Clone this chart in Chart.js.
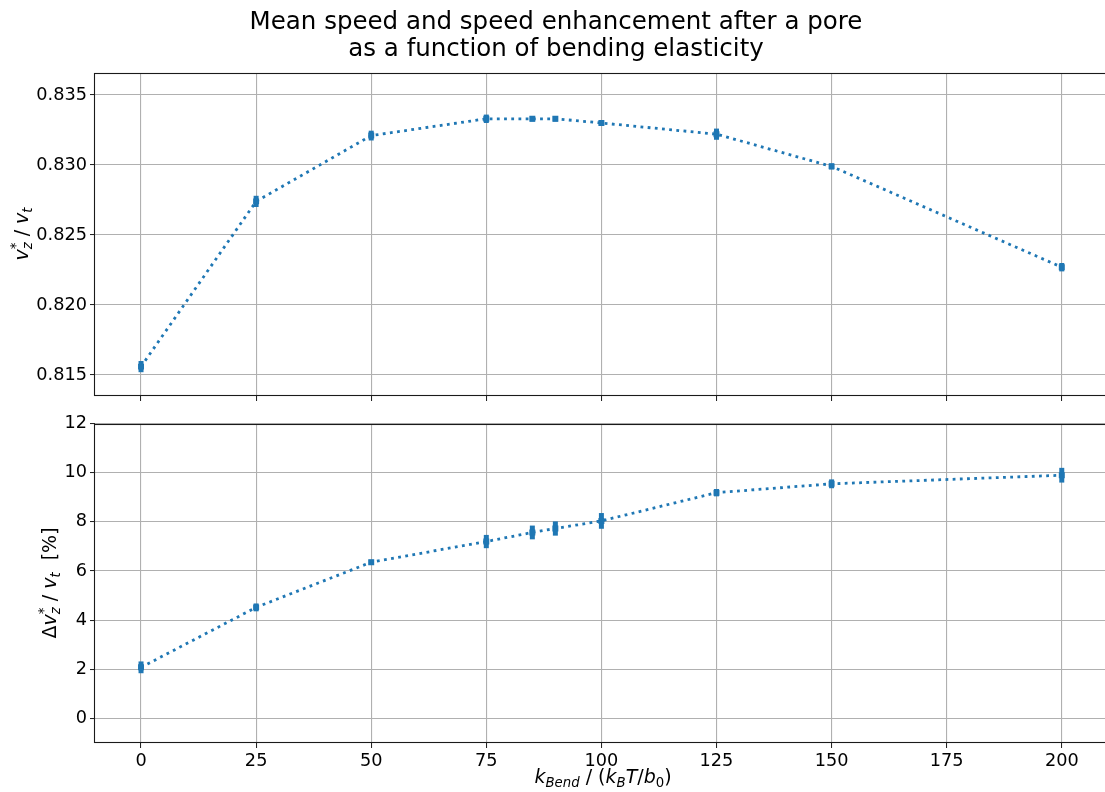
<!DOCTYPE html>
<html>
<head>
<meta charset="utf-8">
<title>Mean speed and speed enhancement</title>
<script src="https://cdn.jsdelivr.net/npm/chart.js@4/dist/chart.umd.min.js"></script>
<style>
  html, body { margin: 0; padding: 0; overflow: hidden; background: #fff; }
  #wrap { position: relative; width: 1112px; height: 792px; }
  canvas { position: absolute; left: 0; }
  #speedChart { top: 0; }
  #gainChart { top: 410px; }
</style>
</head>
<body>
<div id="wrap">
  <canvas id="speedChart" width="1112" height="410"></canvas>
  <canvas id="gainChart" width="1112" height="382"></canvas>
</div>
<script>
// bending elasticity values (x)
const kBend = [0, 25, 50, 75, 85, 90, 100, 125, 150, 200];
// mean speed v_z* / v_t
const meanSpeed = [0.8156, 0.8274, 0.8321, 0.8333, 0.8333, 0.8333, 0.8330, 0.8322, 0.8299, 0.8227];
const meanSpeedErr = [0.0004, 0.0004, 0.00035, 0.0003, 0.0002, 0.0002, 0.0002, 0.0004, 0.00022, 0.0003];
// speed enhancement in %
const speedGain = [2.08, 4.52, 6.36, 7.20, 7.57, 7.73, 8.04, 9.19, 9.55, 9.90];
const speedGainErr = [0.24, 0.16, 0.1, 0.27, 0.28, 0.29, 0.32, 0.15, 0.18, 0.30];

const xTicks = [0, 25, 50, 75, 100, 125, 150, 175, 200];
const speedTicks = [0.815, 0.820, 0.825, 0.830, 0.835];
const gainTicks = [0, 2, 4, 6, 8, 10, 12];

const BLUE = '#1f77b4';
const FONT = '"DejaVu Sans", sans-serif';

// draw text with simple sub/superscripts, optionally rotated
function drawMath(ctx, parts, x, y, size, rotate) {
  const small = size * 0.7;
  const fontFor = (it, px) => (it ? 'italic ' : '') + px + 'px ' + FONT;
  let widths = parts.map(p => {
    if (p.t !== undefined) {
      ctx.font = fontFor(p.it, p.sub ? small : size);
      return ctx.measureText(p.t).width;
    }
    ctx.font = fontFor(p.it, small);
    return Math.max(ctx.measureText(p.sup || '').width, ctx.measureText(p.subz || '').width);
  });
  const total = widths.reduce((a, b) => a + b, 0);
  ctx.save();
  ctx.translate(x, y);
  if (rotate) ctx.rotate(-Math.PI / 2);
  ctx.fillStyle = '#000';
  ctx.textBaseline = 'alphabetic';
  ctx.textAlign = 'left';
  let cx = -total / 2;
  parts.forEach((p, i) => {
    if (p.t !== undefined) {
      ctx.font = fontFor(p.it, p.sub ? small : size);
      ctx.fillText(p.t, cx, p.sub ? size * 0.22 : 0);
    } else {
      ctx.font = fontFor(p.it, small);
      if (p.sup) ctx.fillText(p.sup, cx, -size * 0.42);
      if (p.subz) ctx.fillText(p.subz, cx, size * 0.22);
    }
    cx += widths[i];
  });
  ctx.restore();
}

const errorBars = {
  id: 'errorBars',
  beforeDatasetsDraw(chart, args, opts) {
    const {ctx, scales: {x, y}} = chart;
    ctx.save();
    ctx.strokeStyle = BLUE;
    ctx.lineWidth = 5;
    ctx.lineCap = 'butt';
    opts.vals.forEach((v, i) => {
      const px = x.getPixelForValue(kBend[i]);
      ctx.beginPath();
      ctx.moveTo(px, y.getPixelForValue(v - opts.errs[i]));
      ctx.lineTo(px, y.getPixelForValue(v + opts.errs[i]));
      ctx.stroke();
    });
    ctx.restore();
  }
};

const frame = {
  id: 'frame',
  afterDraw(chart, args, opts) {
    const {ctx, chartArea: a} = chart;
    ctx.save();
    ctx.strokeStyle = '#1a1a1a';
    ctx.lineWidth = 1.1;
    ctx.strokeRect(Math.round(a.left) - 0.5, Math.round(a.top) + 0.5,
      Math.round(a.right - a.left) + 1, Math.round(a.bottom - a.top) - 1);
    ctx.restore();
    if (opts.draw) opts.draw(ctx, chart);
  }
};

function fixTicks(list) {
  return scale => { scale.ticks = list.map(v => ({value: v})); };
}

function makeChart(id, values, errs, yMin, yMax, yList, yFmt, cfg) {
  return new Chart(document.getElementById(id), {
    type: 'line',
    data: {
      labels: kBend,
      datasets: [{
        data: values.map((v, i) => ({x: kBend[i], y: v})),
        borderColor: BLUE,
        backgroundColor: BLUE,
        borderWidth: 2.8,
        borderDash: [2.8, 4.4],
        tension: 0,
        pointStyle: 'rect',
        pointRadius: 4.2,
        pointBorderWidth: 0,
        fill: false
      }]
    },
    options: {
      responsive: false,
      animation: false,
      events: [],
      layout: {padding: {left: 0, right: 1, top: cfg.padTop, bottom: 0}},
      plugins: {
        legend: {display: false},
        tooltip: {enabled: false},
        errorBars: {vals: values, errs: errs},
        frame: {draw: cfg.draw}
      },
      scales: {
        x: {
          type: 'linear',
          min: -10,
          max: 210,
          afterBuildTicks: fixTicks(xTicks),
          afterFit: s => { s.height = cfg.xHeight; },
          border: {display: false},
          grid: {color: '#b0b0b0', lineWidth: 1.1, tickColor: '#1a1a1a', tickLength: 5, tickWidth: 1},
          ticks: {display: cfg.xLabels, color: '#000', padding: 3, maxRotation: 0,
            font: {family: FONT, size: 17.7}}
        },
        y: {
          type: 'linear',
          min: yMin,
          max: yMax,
          afterBuildTicks: fixTicks(yList),
          afterFit: s => { s.width = 95; },
          border: {display: false},
          grid: {color: '#b0b0b0', lineWidth: 1.1, tickColor: '#1a1a1a', tickLength: 5, tickWidth: 1},
          ticks: {color: '#000', padding: 3, callback: yFmt,
            font: {family: FONT, size: 17.7}}
        }
      }
    },
    plugins: [errorBars, frame]
  });
}

makeChart('speedChart', meanSpeed, meanSpeedErr, 0.81350, 0.83657, speedTicks,
  v => v.toFixed(3), {
    padTop: 73, xHeight: 14, xLabels: false,
    draw: (ctx) => {
      ctx.save();
      ctx.fillStyle = '#000';
      ctx.font = '24.5px ' + FONT;
      ctx.textAlign = 'center';
      ctx.textBaseline = 'middle';
      ctx.fillText('Mean speed and speed enhancement after a pore', 556, 23);
      ctx.fillText('as a function of bending elasticity', 556, 50);
      ctx.restore();
      drawMath(ctx, [
        {t: 'v', it: true}, {sup: '*', subz: 'z', it: true}, {t: ' / '},
        {t: 'v', it: true}, {t: 't', it: true, sub: true}
      ], 28, 234, 19, true);
    }
  });

makeChart('gainChart', speedGain, speedGainErr, -1, 12, gainTicks,
  v => String(v), {
    padTop: 10, xHeight: 49, xLabels: true,
    draw: (ctx) => {
      drawMath(ctx, [
        {t: '\u0394'}, {t: 'v', it: true}, {sup: '*', subz: 'z', it: true}, {t: ' / '},
        {t: 'v', it: true}, {t: 't', it: true, sub: true}, {t: '  [%]'}
      ], 56, 173, 19, true);
      drawMath(ctx, [
        {t: 'k', it: true}, {t: 'Bend', it: true, sub: true}, {t: ' / ('},
        {t: 'k', it: true}, {t: 'B', it: true, sub: true}, {t: 'T', it: true},
        {t: '/'}, {t: 'b', it: true}, {t: '0', sub: true}, {t: ')'}
      ], 603, 373, 19, false);
    }
  });
</script>
</body>
</html>
